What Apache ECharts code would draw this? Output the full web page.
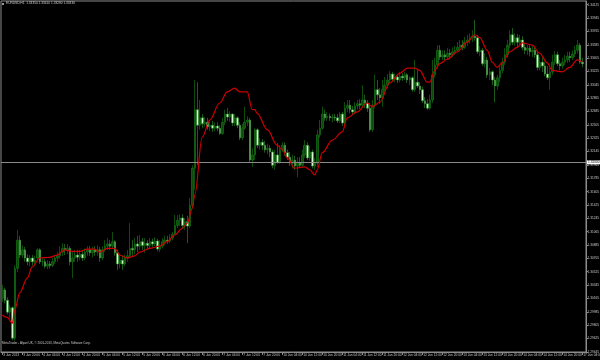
<!DOCTYPE html>
<html>
<head>
<meta charset="utf-8">
<script src="https://cdn.jsdelivr.net/npm/echarts@6/dist/echarts.min.js"></script>
<style>
html,body{margin:0;padding:0;background:#000;}
#c{width:600px;height:360px;}
</style>
</head>
<body>
<div id="c"></div>
<script>
// ---- data (EURUSD, H1) ----
const sessions = [['3 Jun',12,23],['4 Jun',0,23],['5 Jun',0,23],['6 Jun',0,23],['7 Jun',0,23],
  ['10 Jun',0,23],['11 Jun',0,23],['12 Jun',0,23],['13 Jun',0,23],['14 Jun',0,23],['17 Jun',0,4]];
const xLabels = ['3 Jun 2013','3 Jun 20:00','4 Jun 04:00','4 Jun 12:00','4 Jun 20:00','5 Jun 04:00','5 Jun 12:00',
  '5 Jun 20:00','6 Jun 04:00','6 Jun 12:00','6 Jun 20:00','7 Jun 04:00','7 Jun 12:00','7 Jun 20:00','10 Jun 04:00',
  '10 Jun 12:00','10 Jun 20:00','11 Jun 04:00','11 Jun 12:00','11 Jun 20:00','12 Jun 04:00','12 Jun 12:00',
  '12 Jun 20:00','13 Jun 04:00','13 Jun 12:00','13 Jun 20:00','14 Jun 04:00','14 Jun 12:00','14 Jun 20:00','17 Jun 04:00'];
const yTicks = [1.29445,1.29625,1.29805,1.29985,1.30165,1.30345,1.30525,1.30705,1.30885,1.31065,1.31245,1.31425,
  1.31605,1.31785,1.31965,1.32145,1.32325,1.32505,1.32685,1.32865,1.33045,1.33225,1.33405,1.33585,1.33765,1.33945,1.34125];
const yMin = 1.29443, yMax = 1.34175;
const hLine = 1.31920;

const open = [1.3017,1.3028,1.3014,1.2998,1.3004,1.2963,1.3057,1.3095,1.3075,1.3082,1.3071,1.3066,1.3071,1.3066,1.3071,1.3082,1.3066,1.3066,1.3060,1.3063,
1.3061,1.3066,1.3071,1.3074,1.3079,1.3084,1.3082,1.3084,1.3066,1.3071,1.3075,1.3072,1.3076,1.3071,1.3079,1.3082,1.3078,1.3082,1.3079,1.3082,
1.3071,1.3082,1.3087,1.3090,1.3087,1.3093,1.3078,1.3063,1.3068,1.3063,1.3071,1.3074,1.3084,1.3082,1.3090,1.3087,1.3093,1.3088,1.3091,1.3088,
1.3093,1.3090,1.3094,1.3083,1.3087,1.3093,1.3095,1.3094,1.3098,1.3103,1.3115,1.3122,1.3125,1.3115,1.3120,1.3114,1.3142,1.3192,1.3271,1.3250,
1.3260,1.3252,1.3254,1.3248,1.3250,1.3246,1.3249,1.3246,1.3239,1.3254,1.3265,1.3261,1.3265,1.3253,1.3260,1.3250,1.3233,1.3246,1.3254,1.3257,
1.3203,1.3210,1.3244,1.3223,1.3227,1.3223,1.3217,1.3219,1.3214,1.3196,1.3210,1.3200,1.3217,1.3223,1.3213,1.3207,1.3199,1.3203,1.3195,1.3200,
1.3196,1.3210,1.3223,1.3206,1.3214,1.3195,1.3199,1.3237,1.3246,1.3265,1.3260,1.3262,1.3260,1.3261,1.3260,1.3256,1.3265,1.3253,1.3273,1.3277,
1.3271,1.3268,1.3276,1.3279,1.3277,1.3284,1.3280,1.3273,1.3244,1.3277,1.3298,1.3291,1.3287,1.3298,1.3304,1.3311,1.3319,1.3312,1.3315,1.3311,
1.3316,1.3314,1.3318,1.3311,1.3314,1.3298,1.3308,1.3303,1.3298,1.3283,1.3279,1.3273,1.3284,1.3318,1.3331,1.3351,1.3342,1.3345,1.3342,1.3347,
1.3345,1.3349,1.3351,1.3355,1.3358,1.3355,1.3362,1.3365,1.3368,1.3370,1.3368,1.3349,1.3351,1.3333,1.3338,1.3318,1.3322,1.3311,1.3303,1.3314,
1.3324,1.3335,1.3345,1.3358,1.3372,1.3362,1.3368,1.3362,1.3365,1.3355,1.3351,1.3354,1.3349,1.3351,1.3345,1.3328,1.3335,1.3330,1.3319,1.3314,
1.3322,1.3335,1.3345,1.3333,1.3330,1.3335,1.3338,1.3343,1.3341,1.3346,1.3351,1.3358,1.3335];
const close = [1.3028,1.3014,1.2998,1.3004,1.2963,1.3057,1.3095,1.3075,1.3082,1.3071,1.3066,1.3071,1.3066,1.3068,1.3082,1.3066,1.3066,1.3060,1.3063,1.3061,
1.3066,1.3071,1.3074,1.3079,1.3084,1.3082,1.3084,1.3066,1.3071,1.3075,1.3072,1.3076,1.3071,1.3079,1.3082,1.3078,1.3082,1.3079,1.3082,1.3071,
1.3082,1.3087,1.3090,1.3087,1.3093,1.3078,1.3063,1.3068,1.3063,1.3071,1.3074,1.3084,1.3082,1.3090,1.3087,1.3093,1.3088,1.3091,1.3088,1.3093,
1.3090,1.3094,1.3083,1.3087,1.3093,1.3095,1.3094,1.3098,1.3103,1.3115,1.3122,1.3125,1.3115,1.3120,1.3114,1.3142,1.3192,1.3271,1.3250,1.3260,
1.3252,1.3254,1.3248,1.3250,1.3246,1.3249,1.3246,1.3239,1.3254,1.3265,1.3261,1.3265,1.3253,1.3260,1.3250,1.3233,1.3246,1.3254,1.3257,1.3203,
1.3210,1.3244,1.3223,1.3227,1.3223,1.3217,1.3219,1.3214,1.3196,1.3210,1.3200,1.3217,1.3223,1.3213,1.3207,1.3199,1.3203,1.3195,1.3200,1.3196,
1.3210,1.3223,1.3206,1.3214,1.3195,1.3199,1.3237,1.3246,1.3265,1.3260,1.3262,1.3260,1.3261,1.3260,1.3256,1.3265,1.3253,1.3273,1.3277,1.3271,
1.3268,1.3276,1.3279,1.3277,1.3284,1.3280,1.3273,1.3244,1.3277,1.3298,1.3291,1.3287,1.3298,1.3304,1.3311,1.3319,1.3312,1.3315,1.3311,1.3316,
1.3314,1.3318,1.3311,1.3314,1.3298,1.3308,1.3303,1.3298,1.3283,1.3279,1.3273,1.3284,1.3318,1.3331,1.3351,1.3342,1.3345,1.3342,1.3347,1.3345,
1.3349,1.3351,1.3355,1.3358,1.3355,1.3362,1.3365,1.3368,1.3370,1.3368,1.3349,1.3351,1.3333,1.3338,1.3318,1.3322,1.3311,1.3303,1.3314,1.3324,
1.3335,1.3345,1.3358,1.3372,1.3362,1.3368,1.3362,1.3365,1.3355,1.3351,1.3354,1.3349,1.3351,1.3345,1.3328,1.3335,1.3330,1.3319,1.3314,1.3322,
1.3335,1.3345,1.3333,1.3330,1.3335,1.3338,1.3343,1.3341,1.3346,1.3351,1.3358,1.3335,1.3333];
const high = [1.3035,1.3031,1.3018,1.3008,1.3006,1.3061,1.3109,1.3101,1.3088,1.3086,1.3076,1.3075,1.3075,1.3074,1.3084,1.3084,1.3071,1.3070,1.3068,1.3067,
1.3071,1.3075,1.3079,1.3087,1.3091,1.3090,1.3090,1.3087,1.3079,1.3082,1.3082,1.3082,1.3082,1.3084,1.3087,1.3087,1.3086,1.3087,1.3088,1.3086,
1.3087,1.3095,1.3098,1.3095,1.3106,1.3095,1.3082,1.3076,1.3074,1.3076,1.3082,1.3118,1.3095,1.3098,1.3101,1.3102,1.3098,1.3098,1.3095,1.3098,
1.3097,1.3099,1.3097,1.3095,1.3098,1.3101,1.3101,1.3103,1.3106,1.3129,1.3129,1.3130,1.3130,1.3125,1.3128,1.3152,1.3196,1.3311,1.3308,1.3284,
1.3265,1.3261,1.3260,1.3257,1.3256,1.3254,1.3254,1.3250,1.3260,1.3271,1.3273,1.3269,1.3266,1.3265,1.3262,1.3254,1.3252,1.3275,1.3262,1.3260,
1.3219,1.3246,1.3246,1.3233,1.3231,1.3229,1.3225,1.3223,1.3217,1.3217,1.3226,1.3223,1.3227,1.3227,1.3217,1.3214,1.3210,1.3209,1.3207,1.3207,
1.3217,1.3230,1.3227,1.3222,1.3217,1.3206,1.3244,1.3257,1.3275,1.3271,1.3268,1.3266,1.3265,1.3265,1.3265,1.3268,1.3268,1.3281,1.3284,1.3284,
1.3276,1.3281,1.3284,1.3285,1.3304,1.3291,1.3284,1.3280,1.3284,1.3318,1.3311,1.3300,1.3311,1.3315,1.3319,1.3323,1.3322,1.3320,1.3319,1.3322,
1.3320,1.3322,1.3320,1.3316,1.3316,1.3338,1.3324,1.3308,1.3302,1.3288,1.3285,1.3291,1.3338,1.3341,1.3358,1.3358,1.3351,1.3351,1.3354,1.3353,
1.3355,1.3357,1.3362,1.3365,1.3365,1.3369,1.3372,1.3374,1.3378,1.3392,1.3372,1.3357,1.3354,1.3347,1.3342,1.3327,1.3324,1.3315,1.3318,1.3330,
1.3341,1.3354,1.3365,1.3378,1.3381,1.3374,1.3373,1.3372,1.3370,1.3361,1.3358,1.3358,1.3357,1.3355,1.3349,1.3342,1.3341,1.3335,1.3330,1.3327,
1.3345,1.3350,1.3349,1.3338,1.3341,1.3345,1.3349,1.3349,1.3351,1.3357,1.3365,1.3361,1.3341];
const low = [1.3012,1.3010,1.2995,1.2990,1.2960,1.2960,1.3052,1.3071,1.3071,1.3066,1.3061,1.3060,1.3061,1.3063,1.3068,1.3063,1.3060,1.3057,1.3056,1.3057,
1.3059,1.3063,1.3066,1.3070,1.3074,1.3075,1.3076,1.3061,1.3044,1.3066,1.3066,1.3068,1.3067,1.3068,1.3074,1.3074,1.3072,1.3074,1.3074,1.3066,
1.3068,1.3079,1.3082,1.3082,1.3084,1.3074,1.3055,1.3057,1.3055,1.3060,1.3066,1.3071,1.3074,1.3076,1.3079,1.3082,1.3082,1.3078,1.3082,1.3084,
1.3086,1.3087,1.3080,1.3079,1.3084,1.3088,1.3090,1.3091,1.3095,1.3101,1.3111,1.3114,1.3111,1.3109,1.3091,1.3111,1.3138,1.3163,1.3196,1.3244,
1.3246,1.3248,1.3244,1.3242,1.3241,1.3242,1.3242,1.3237,1.3237,1.3250,1.3256,1.3254,1.3249,1.3249,1.3246,1.3230,1.3230,1.3244,1.3249,1.3200,
1.3194,1.3203,1.3219,1.3217,1.3217,1.3213,1.3211,1.3207,1.3192,1.3190,1.3198,1.3198,1.3214,1.3209,1.3203,1.3195,1.3192,1.3190,1.3180,1.3192,
1.3194,1.3206,1.3203,1.3202,1.3192,1.3190,1.3194,1.3233,1.3244,1.3256,1.3256,1.3256,1.3254,1.3256,1.3253,1.3253,1.3249,1.3250,1.3268,1.3266,
1.3265,1.3265,1.3271,1.3272,1.3273,1.3273,1.3268,1.3241,1.3241,1.3273,1.3284,1.3279,1.3275,1.3291,1.3300,1.3307,1.3308,1.3308,1.3307,1.3308,
1.3310,1.3311,1.3307,1.3304,1.3295,1.3295,1.3300,1.3292,1.3280,1.3273,1.3271,1.3271,1.3280,1.3314,1.3327,1.3338,1.3338,1.3338,1.3339,1.3341,
1.3342,1.3345,1.3349,1.3351,1.3351,1.3353,1.3357,1.3360,1.3362,1.3364,1.3346,1.3343,1.3330,1.3328,1.3314,1.3311,1.3304,1.3281,1.3298,1.3308,
1.3320,1.3331,1.3341,1.3354,1.3358,1.3357,1.3354,1.3357,1.3351,1.3346,1.3345,1.3343,1.3342,1.3341,1.3324,1.3324,1.3322,1.3316,1.3311,1.3298,
1.3318,1.3331,1.3330,1.3324,1.3326,1.3331,1.3334,1.3335,1.3338,1.3342,1.3347,1.3333,1.3328];
// red indicator line, read at bar positions [bar, price]
const maBars   = [0,2,4,5,7,10,12,15,19,22,25,28,31,34,37,39,42,45,47,50,53,55,59,63,66,69,72,74,76,77,80,83,87,90,93,95,98,100,101,102,
  106,110,112,114,117,121,123,125,126,128,132,136,138,142,146,148,151,155,159,162,165,167,170,171,173,175,178,182,186,189,191,194,196,198,
  200,203,206,208,212,215,218,220,224,227,230,232];
const maValues = [1.2994,1.2991,1.2983,1.3001,1.3024,1.3044,1.3059,1.3071,1.3072,1.3075,1.3082,1.3080,1.3080,1.3083,1.3083,1.3079,1.3084,1.3084,1.3075,1.3071,
  1.3074,1.3079,1.3084,1.3087,1.3093,1.3102,1.3111,1.3118,1.3138,1.3156,1.3234,1.3257,1.3280,1.3295,1.3300,1.3295,1.3295,1.3271,1.3271,1.3266,
  1.3244,1.3223,1.3217,1.3206,1.3192,1.3194,1.3190,1.3183,1.3190,1.3213,1.3230,1.3241,1.3260,1.3268,1.3280,1.3275,1.3281,1.3307,1.3320,1.3327,
  1.3327,1.3324,1.3308,1.3308,1.3324,1.3333,1.3339,1.3349,1.3362,1.3372,1.3368,1.3351,1.3335,1.3328,1.3334,1.3349,1.3355,1.3361,1.3358,1.3347,
  1.3334,1.3324,1.3322,1.3328,1.3338,1.3335];

// ---- build ----
const categories = [];
sessions.forEach(([d, h0, h1]) => { for (let h = h0; h <= h1; h++) categories.push(d + ' ' + String(h).padStart(2,'0') + ':00'); });
const candles = open.map((o, i) => [o, close[i], low[i], high[i]]);
const ma = maBars.map((b, i) => [b, maValues[i]]);
const last = open.length - 1;
const fmt = v => v.toFixed(5);
const titleText = 'EURUSD,H1  ' + [open[last], high[last], low[last], close[last]].map(fmt).join(' ');

const FONT = 'Liberation Sans';
const chart = echarts.init(document.getElementById('c'), null, {renderer: 'canvas'});
chart.setOption({
  backgroundColor: '#000000',
  animation: false,
  textStyle: {fontFamily: FONT},
  grid: {left: 1, right: 14, top: 1, bottom: 8, show: true, borderColor: '#8c8c8c', borderWidth: 1,
    containLabel: false, outerBoundsMode: 'none'},
  xAxis: {
    type: 'category', data: categories, max: categories.length, boundaryGap: true,
    axisLine: {show: true, lineStyle: {color: '#8c8c8c', width: 1}},
    axisTick: {show: true, interval: 7, alignWithLabel: true, length: 3, lineStyle: {color: '#8c8c8c'}},
    axisLabel: {
      interval: 7, color: '#c8c8c8', fontSize: 3.2, fontFamily: FONT, align: 'left', margin: 1.5, padding: [0,0,0,1],
      formatter: (v, idx) => (idx % 8 === 0 && xLabels[idx / 8]) ? xLabels[idx / 8] : ''
    },
    splitLine: {show: false}
  },
  yAxis: {
    type: 'value', position: 'right', min: yMin, max: yMax,
    axisLine: {show: true, lineStyle: {color: '#8c8c8c', width: 1}},
    axisTick: {show: true, customValues: yTicks, length: 2, lineStyle: {color: '#8c8c8c'}},
    axisLabel: {customValues: yTicks, color: '#c8c8c8', fontSize: 3.2, fontFamily: FONT, margin: 1.5, formatter: v => fmt(v)},
    splitLine: {show: false}
  },
  graphic: [
    {type: 'rect', left: 2, top: 3, shape: {width: 2, height: 2}, style: {fill: '#9a9a9a'}, silent: true},
    {type: 'text', left: 6, top: 2, style: {text: titleText, fill: '#d0d0d0', font: '3.2px ' + FONT}, silent: true},
    {type: 'text', left: 2, top: 342, style: {text: 'MetaTrader - Alpari UK, © 2001-2013, MetaQuotes Software Corp.', fill: '#c8c8c8', font: '3px ' + FONT}, silent: true}
  ],
  series: [
    {
      type: 'candlestick', data: candles, barWidth: 2, silent: true,
      itemStyle: {color: '#0a4a0a', color0: '#d4fbcc', borderColor: '#187f18', borderColor0: '#2f972f', borderWidth: 0.6},
      markLine: {
        silent: true, symbol: 'none', animation: false,
        lineStyle: {color: '#8a8a8a', width: 1, type: 'solid'},
        label: {show: true, position: 'end', formatter: p => fmt(p.value), color: '#000', backgroundColor: '#ffffff',
          fontSize: 3.2, fontFamily: FONT, padding: [0.5, 1], distance: 1},
        data: [{yAxis: hLine}]
      }
    },
    {
      type: 'line', data: ma, smooth: 0.35, smoothMonotone: 'x', showSymbol: false, silent: true,
      lineStyle: {color: '#cc0000', width: 1.2}, z: 5
    }
  ]
});
</script>
</body>
</html>
